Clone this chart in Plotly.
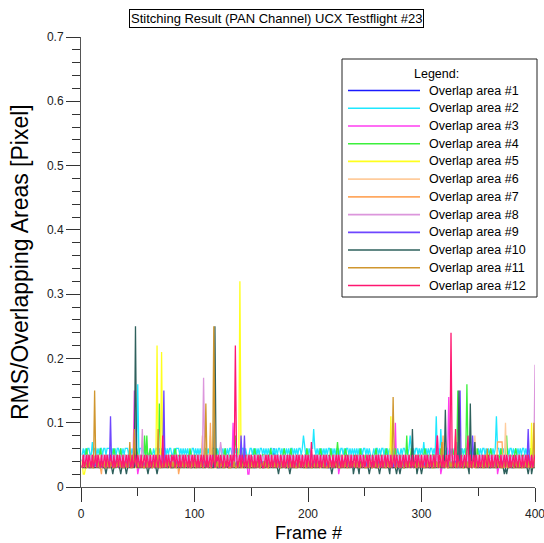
import plotly.graph_objects as go

# ---------------------------------------------------------------- data
# RMS per frame and overlap area, in 1/100 pixel (one digit per frame, frames 1..400)
BASE_01 = """
4443444434 4444344443 4443444444 3444434444
4444434444 3444444344 4443444444 4344444434
4434444444 4443444434 4444444344 4434444444
4444344444 3444443444 4444344444 4444434444
4443444444 4434444443 4444444434 4444344444
4344444444 3444444344 4444434444 4443444444
4444434444 4444344443 4444444434 4444444344
4434444444 4344444443 4444444434 4434444444
4444443444 4444434444 4344444444 4434444444
4444344444 4443444444 3444444434 4444434444
"""
BASE_02 = """
5656566556 5665656656 6566665656 5665656566
6565656656 5666565654 6556566565 6566565665
5656665656 5656545665 6565656566 5656566656
5665656565 6656565656 5665654566 5656565665
6565656656 5656656565 6565665656 5665646565
6566565656 5656565665 6565656566 5656656565
6565656566 5656545656 6565665656 5656566565
5656656565 6565665656 5656565665 6565656566
5665656566 5656565656 6656565456 5656656565
6565656656 5656565665 6565656566 5656565656
"""
BASE_03 = """
3453435434 5343543453 4354345343 5434534354
4353452345 3435434534 3543453435 4345343543
5343543453 4354345343 5434534354 3453435434
4345343543 5343453435 4353452345 3435434534
3543453435 4345343543 5343543453 4354345343
5434534354 3453435434 4353452345 3435434534
4345343543 5343543453 4354345343 5434534354
3453435434 4345343543 5343453435 4353452345
3543453435 4354345343 5434534354 3453435434
4353452345 3435434534 3543453435 4345343543
"""
BASE_04 = """
4545645454 5454546545 4545454565 4545645454
5454545465 4545454545 6545454546 5454545454
4565454545 4545465454 5454545456 4545454565
4545456454 5454545454 6545454545 4565454545
5454546545 4545454565 4545645454 5454545465
4545454545 6545454546 5454545454 4565454545
4545465454 5454545456 4545454565 4545456454
5454545454 6545454545 4565454545 5454546545
4545454565 4545645454 5454545465 4545454545
6545454546 5454545454 4565454545 4545465454
"""
BASE_05 = """
4243434343 3434343434 4343343434 3434434343
4343434334 3434343434 3434343443 4343434343
3434343434 4343434343 3343434343 4343434334
4343434343 3434343443 4343434343 3434343434
3434334343 4343434343 3434343434 4343433434
4343434343 3434343434 4343434334 3434343434
3434343443 4343434343 3434343434 4343434343
4343343434 3434343434 4343434343 3434434343
3434343434 4343434334 3434343434 4343434343
4343434343 3434343434 3434334343 4343434343
"""
BASE_06 = """
4444544445 4444454444 5444444544 4445444444
4454444445 4444544444 4544444454 4444445444
4445444444 5444444544 4444454444 4544444445
4444544444 4454444445 4444445444 4445444444
5444444544 4444454444 4544444445 4444544444
4454444445 4444445444 4445444444 5444444544
4444454444 4544444445 4444544444 4454444445
4444445444 4445444444 5444444544 4444454444
4544444445 4444544444 4454444445 4444445444
4445444444 5444444544 4444454444 4544444445
"""
BASE_07 = """
3433343334 3343433343 3343334334 3433343343
3343343433 4334333433 3433433343 3343433433
4333433343 3433343343 3343343433 4334333433
3433433343 3343433433 4333433343 3433343343
3343343433 4334333433 3433433343 3343433433
4333433343 3433343343 3343343433 4334333433
3433433343 3343433433 4333433343 3433343343
3343343433 4334333433 3433433343 3343433433
4333433343 3433343343 3343343433 4334333433
3433433343 3343433433 4333433343 3433343343
"""
BASE_08 = """
4545454454 5454544545 4545454545 4454545454
5454545454 4545454454 5454545445 4545454545
4454545454 5454545454 4545445454 5454545454
4545454545 4454545454 5454545454 4545454454
5454545445 4545454545 4454545454 5454545454
4545445454 5454545454 4545454545 4454545454
5454545454 4545454454 5454545445 4545454545
4454545454 5454545454 4545445454 5454545454
4545454545 4454545454 5454545454 4545454454
5454545445 4545454545 4454545454 5454545454
"""
BASE_09 = """
3434343343 4343434343 3434343434 4343343434
3434343434 4343434343 3434334343 4343434343
3434343434 4343433434 3434343434 4343434343
3343434343 4343434343 3434343434 4334343434
3434343434 4343434343 3433434343 4343434343
3434343434 4343434334 3434343434 4343434343
3434334343 4343434343 3434343434 4343343434
3434343434 4343434343 3434343343 4343434343
3434343434 4334343434 3434343434 4343434343
3434343434 4343434343 3343434343 4343434343
"""
BASE_10 = """
3333343333 3333333433 3333333333 3433333333
3333333343 3333333333 3334333333 3333333433
3343333333 3333343333 3333333333 4333333343
3333333433 3333333333 3433333333 3333343333
3334333333 3333333343 3333333333 3433333333
3333333333 4333333333 3333433333 3333333343
3333343333 3333333433 3333333333 3343333333
3333333343 3333433333 3333333333 3333343333
3433333333 3333333343 3333343333 3333333333
3333333433 3333333333 3433333333 3333343333
"""
BASE_11 = """
3434334343 3343433434 3343434334 3434343343
4343343434 3434334343 4334343433 4343434334
3433434343 4343433434 3434343343 4343343434
3434334343 3343433434 3343434334 3434343343
4343343434 3434334343 4334343433 4343434334
3433434343 4343433434 3434343343 4343343434
3434334343 3343433434 3343434334 3434343343
4343343434 3434334343 4334343433 4343434334
3433434343 4343433434 3434343343 4343343434
3434334343 3343433434 3343434334 3434343343
"""
BASE_12 = """
3534535435 3453543534 5354354353 4535435345
3543534535 4353453543 5345354354 3534535435
4535435345 3543534535 4353453543 5345354354
5354354353 4535435345 3543534535 4353453543
3453543534 5354354353 4535435345 3543534535
4353453543 5345354354 3534535435 3453543534
5354354353 4535435345 3543534535 4353453543
5345354354 3534535435 3453543534 5354354353
4535435345 3543534535 4353453543 5345354354
3534535435 3453543534 5354354353 4535435345
"""

# individual frames that leave the usual band: (frame, RMS in pixel)
PEAKS_01 = [(170, 0.06), (331, 0.07)]
PEAKS_02 = [(10, 0.07), (50, 0.16), (196, 0.08), (205, 0.09), (290, 0.08),
            (302, 0.07), (313, 0.11), (317, 0.09), (366, 0.11)]
PEAKS_03 = [(47, 0.15), (50, 0.02), (134, 0.10), (148, 0.02), (277, 0.10),
            (314, 0.08), (324, 0.14)]
PEAKS_04 = [(56, 0.08), (58, 0.08), (69, 0.13), (136, 0.08), (226, 0.07),
            (287, 0.08), (332, 0.15), (340, 0.16), (375, 0.08)]
PEAKS_05 = [(3, 0.02), (67, 0.22), (71, 0.21), (114, 0.08), (140, 0.32),
            (273, 0.11), (330, 0.08), (397, 0.10)]
PEAKS_06 = [(347, 0.08), (374, 0.10)]
PEAKS_07 = [(18, 0.02), (86, 0.02), (107, 0.08), (114, 0.10), (319, 0.08),
            (367, 0.07), (368, 0.07), (369, 0.07), (370, 0.07), (371, 0.07)]
PEAKS_08 = [(54, 0.09), (108, 0.17), (123, 0.07), (400, 0.19)]
PEAKS_09 = [(26, 0.11), (73, 0.15), (141, 0.08), (144, 0.08), (334, 0.15),
            (345, 0.08), (394, 0.09)]
PEAKS_10 = [(22, 0.02), (28, 0.02), (35, 0.02), (40, 0.02), (48, 0.25),
            (59, 0.02), (67, 0.02), (118, 0.25), (174, 0.02), (184, 0.02),
            (221, 0.02), (240, 0.02), (245, 0.02), (254, 0.02), (263, 0.02),
            (272, 0.02), (278, 0.02), (281, 0.02), (292, 0.09), (296, 0.02),
            (300, 0.02), (321, 0.12), (333, 0.15), (342, 0.02), (343, 0.13),
            (347, 0.07), (373, 0.02), (375, 0.02), (394, 0.02), (397, 0.02)]
PEAKS_11 = [(12, 0.15), (43, 0.07), (47, 0.09), (68, 0.09), (110, 0.13),
            (117, 0.25), (275, 0.14), (318, 0.07), (358, 0.06), (399, 0.10)]
PEAKS_12 = [(72, 0.08), (136, 0.22), (203, 0.07), (314, 0.08), (326, 0.24),
            (330, 0.09), (341, 0.08)]

BASES = [BASE_01, BASE_02, BASE_03, BASE_04, BASE_05, BASE_06,
         BASE_07, BASE_08, BASE_09, BASE_10, BASE_11, BASE_12]
PEAKS = [PEAKS_01, PEAKS_02, PEAKS_03, PEAKS_04, PEAKS_05, PEAKS_06,
         PEAKS_07, PEAKS_08, PEAKS_09, PEAKS_10, PEAKS_11, PEAKS_12]

NAMES = ["Overlap area #%d" % i for i in range(1, 13)]
COLORS = ["#1a1aff", "#1ee8ff", "#ff3cf0", "#3cf03c", "#ffff1e", "#ffcc9c",
          "#ffa860", "#dc96dc", "#6e46ff", "#2e605c", "#d0962e", "#ff1670"]

TITLE = "Stitching Result (PAN Channel) UCX Testflight #23"
X_TITLE = "Frame #"
Y_TITLE = "RMS/Overlapping Areas [Pixel]"
FONT = "Liberation Sans, Arial, sans-serif"


def series(base, peaks):
    digits = "".join(base.split())
    vals = [int(c) / 100 for c in digits]
    for frame, v in peaks:
        if 1 <= frame <= len(vals):
            vals[frame - 1] = v
    frames = list(range(1, len(vals) + 1))
    return frames, vals


fig = go.Figure()
for name, color, base, peaks in zip(NAMES, COLORS, BASES, PEAKS):
    fx, fy = series(base, peaks)
    fig.add_trace(go.Scatter(x=fx, y=fy, mode="lines", name=name,
                             line=dict(color=color, width=1.3),
                             showlegend=False))

# ---------------------------------------------------------------- layout
W, H = 544, 543
ML, MR, MT, MB = 81, 9, 37, 56
PW, PH = W - ML - MR, H - MT - MB


def px(xp):
    return (xp - ML) / PW


def py(yp):
    return (H - MB - yp) / PH


axis_common = dict(
    automargin=False,
    showgrid=False, zeroline=False, showline=True, linecolor="#555555",
    linewidth=1, ticks="outside", ticklen=14, tickwidth=1,
    tickcolor="#333333", tickfont=dict(family=FONT, size=12, color="#222222"),
)

fig.update_layout(
    width=W, height=H,
    margin=dict(l=ML, r=MR, t=MT, b=MB, pad=0, autoexpand=False),
    paper_bgcolor="white", plot_bgcolor="white",
    font=dict(family=FONT, color="#000000"),
    xaxis=dict(range=[0, 400], tickvals=[0, 100, 200, 300, 400],
               ticklabeloverflow="allow", ticklabelstandoff=2,
               minor=dict(dtick=50, tick0=0, ticks="outside", ticklen=8,
                          tickcolor="#333333"),
               **axis_common),
    yaxis=dict(range=[0, 0.7], tick0=0, dtick=0.1,
               minor=dict(dtick=0.02, tick0=0, ticks="outside", ticklen=8,
                          tickcolor="#333333"),
               **axis_common),
)

annotations = [
    dict(text=TITLE, x=px(276), y=py(19), xref="paper", yref="paper",
         xanchor="center", yanchor="middle", showarrow=False,
         font=dict(family=FONT, size=13, color="#000000"),
         bordercolor="#000000", borderwidth=1, borderpad=1, bgcolor="white"),
    dict(text=X_TITLE, x=0.5, y=py(533), xref="paper", yref="paper",
         xanchor="center", yanchor="middle", showarrow=False,
         font=dict(family=FONT, size=18, color="#000000")),
    dict(text=Y_TITLE, x=px(20), y=py(262), xref="paper", yref="paper",
         xanchor="center", yanchor="middle", showarrow=False, textangle=-90,
         font=dict(family=FONT, size=23, color="#000000")),
    dict(text="Legend:", x=px(436), y=py(74), xref="paper", yref="paper",
         xanchor="center", yanchor="middle", showarrow=False,
         font=dict(family=FONT, size=12.5, color="#000000")),
]

shapes = [dict(type="rect", xref="paper", yref="paper",
               x0=px(342), x1=px(537), y0=py(297), y1=py(59),
               line=dict(color="#222222", width=1), fillcolor="white",
               layer="above")]

row0, row_step = 90.5, 17.73
for i, (name, color) in enumerate(zip(NAMES, COLORS)):
    yrow = py(row0 + i * row_step)
    shapes.append(dict(type="line", xref="paper", yref="paper",
                       x0=px(348), x1=px(420), y0=yrow, y1=yrow,
                       line=dict(color=color, width=1.6), layer="above"))
    annotations.append(dict(text=name, x=px(427), y=yrow, xref="paper",
                            yref="paper", xanchor="left", yanchor="middle",
                            showarrow=False,
                            font=dict(family=FONT, size=12.5, color="#000000")))

fig.update_layout(annotations=annotations, shapes=shapes)

fig.write_html("out.html")
